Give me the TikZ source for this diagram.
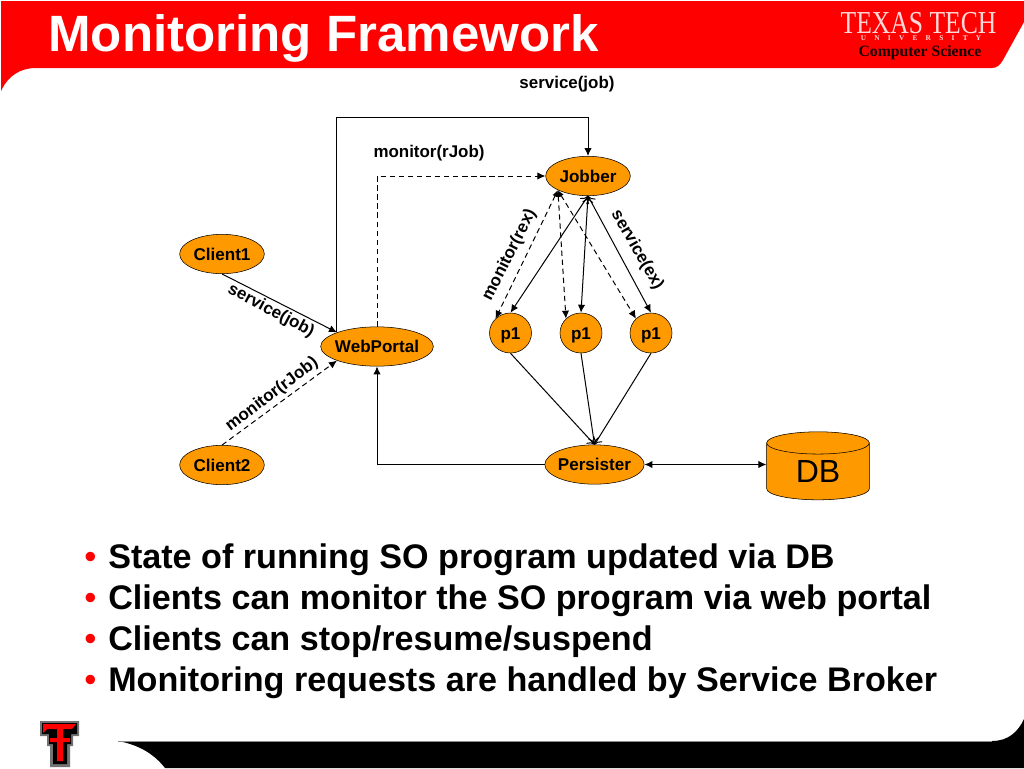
\documentclass[tikz,border=0pt]{standalone}
\usepackage{fontspec}
\setmainfont{Liberation Sans}
\newfontfamily\logofont{Liberation Serif}
\usetikzlibrary{arrows.meta, shapes.geometric}
\definecolor{ttred}{RGB}{255,0,0}
\definecolor{boxorange}{RGB}{255,153,0}
\tikzset{
    blob/.style={ellipse, draw=black, fill=boxorange, inner ysep=0pt, inner xsep=-8pt, text height=9.3pt, text depth=0pt, font=\fontsize{12.8pt}{15pt}\selectfont\bfseries},
    portnode/.style={blob, minimum width=63.5pt, minimum height=29.5pt},
    wideport/.style={blob, minimum width=84.5pt, minimum height=29.5pt},
    worker/.style={blob, minimum width=31.5pt, minimum height=30pt},
    callname/.style={inner sep=0pt, font=\fontsize{12.7pt}{15pt}\selectfont\bfseries},
    bullettext/.style={inner sep=0pt, anchor=base west, font=\fontsize{25.6pt}{30pt}\selectfont\bfseries},
    bulletdot/.style={inner sep=0pt, anchor=base west, text=ttred, font=\fontsize{26pt}{30pt}\selectfont},
    link/.style={-{Latex[length=6pt,width=5.5pt]}, line width=0.75pt},
    watch/.style={link, dash pattern=on 4pt off 2.8pt}
}
\begin{document}
\begin{tikzpicture}[x=0.75pt, y=-0.75pt]
    \useasboundingbox (0,0) rectangle (1024,768);
    % --- Bandeau du haut ---
    \fill[white] (0,0) rectangle (1024,768);
    \fill[ttred] (1,1) -- (1024,1) -- (1024,22) -- (1003,60)
        .. controls (1000,65) and (997,68) .. (992,68) -- (36,68)
        .. controls (20,68) and (8,76) .. (1,91) -- cycle;
    \node[inner sep=0pt, anchor=base west, text=white, font=\fontsize{38.3pt}{44pt}\selectfont\bfseries]
        (title) at (48,51) {Monitoring Framework};

    % --- Logo ---
    \node[inner sep=0pt, anchor=base, xscale=0.8, text=white!85!red, font=\logofont\fontsize{24pt}{26pt}\selectfont] (texas) at (918.5,33) {TEXAS TECH};
    \node[inner sep=0pt, anchor=base, text=white!85!red, font=\logofont\bfseries\fontsize{5.5pt}{6pt}\selectfont] (univ) at (921,40) {U\hspace{6.2pt}N\hspace{6.2pt}I\hspace{6.2pt}V\hspace{6.2pt}E\hspace{6.2pt}R\hspace{6.2pt}S\hspace{6.2pt}I\hspace{6.2pt}T\hspace{6.2pt}Y};
    \node[inner sep=0pt, text=black!90!red, font=\logofont\bfseries\fontsize{11.8pt}{13pt}\selectfont] (dept) at (920,52.5) {Computer Science};

    % --- Bandeau du bas ---
    \fill[black] (118,741) .. controls (140,745) and (155,755) .. (165,768) -- (1024,768) -- (1024,719)
        .. controls (1018,732) and (1008,741) .. (992,741) -- cycle;
    \draw[black!45] (118,741) -- (992,741);

    % --- Double T ---
    \fill[black!55] (40,721) -- (79,721) -- (79,736) -- (73,736) -- (73,746) -- (70,746) -- (70,767)
        -- (50,767) -- (50,746) -- (47,746) -- (47,736) -- (40,736) -- cycle;
    \fill[black] (42,723) -- (77,723) -- (77,734) -- (71,734) -- (71,744) -- (67,744) -- (67,764)
        -- (53,764) -- (53,744) -- (49,744) -- (49,734) -- (42,734) -- cycle;
    \fill[ttred] (43,724) -- (76,724) -- (72,729) -- (63,729) -- (63,738) -- (70,738) -- (70,742)
        -- (63,742) -- (63,761) -- (57,761) -- (57,742) -- (50,742) -- (50,738) -- (57,738) -- (57,729)
        -- (47,729) -- (43,733) -- cycle;

    % --- Noeuds ---
    \node[portnode] (Client1) at (222,254) {Client1};
    \node[portnode] (Client2) at (222,465) {Client2};
    \node[wideport] (WebPortal) at (377,346.5) {WebPortal};
    \node[portnode] (Jobber) at (588,176) {Jobber};
    \node[worker] (p1a) at (510.5,333) {p1};
    \node[worker] (p1b) at (581,333) {p1};
    \node[worker] (p1c) at (651,333) {p1};
    \node[blob, minimum width=74.5pt, minimum height=29.5pt] (Persister) at (594.5,464.5) {Persister};
    \node[cylinder, shape border rotate=90, aspect=0.5, draw=black, fill=boxorange, cylinder uses custom fill,
        cylinder body fill=boxorange, cylinder end fill=boxorange, inner sep=0pt,
        minimum width=77pt, minimum height=51pt, font=\fontsize{24pt}{28pt}\selectfont] (DB) at (818,471.5) {DB};

    \coordinate (webTop) at (WebPortal.north west |- 0,117);
    \coordinate (dbPort) at (DB.west |- Persister.east);

    % --- Connecteurs ---
    \draw[link] (WebPortal.north west) -- (webTop) -| (Jobber.north);
    \draw[watch] (WebPortal.north) |- (Jobber.west);
    \draw[link] (Client1.south) -- (WebPortal.north west);
    \draw[watch] (Client2.north) -- (WebPortal.south west);
    \draw[link] (Persister.west) -| (WebPortal.south);
    \draw[link, {Latex[length=6pt,width=5.5pt]}-{Latex[length=6pt,width=5.5pt]}] (Persister.east) -- (dbPort);

    % Jobber et les p1
    \foreach \p in {p1a, p1b, p1c} {
        \draw[link, {To[length=5pt,width=8pt]}-{Latex[length=6pt,width=5.5pt]}] (Jobber.south) -- (\p.north);
        \draw[watch, {Latex[length=5pt,width=4pt]}-{Latex[length=6pt,width=5.5pt]}] (Jobber.south west) -- (\p.north west);
        \draw[line width=0.75pt, -{To[length=5pt,width=8pt]}] (\p.south) -- (Persister.north);
    }

    % --- Etiquettes ---
    \node[callname] (lblTop) at (567,84) {service(job)};
    \node[callname] (lblWeb) at (429,153) {monitor(rJob)};
    \node[callname, rotate=63] (lblRex) at (509.5,255) {monitor(rex)};
    \node[callname, rotate=-60] (lblEx) at (637,250) {service(ex)};
    \node[callname, rotate=-28] (lblJob) at (271,311) {service(job)};
    \node[callname, rotate=37] (lblRJob) at (272,394.5) {monitor(rJob)};

    % --- Liste ---
    \foreach \y/\txt [count=\i] in {
        568/{State of running SO program updated via DB},
        609/{Clients can monitor the SO program via web portal},
        650/{Clients can stop/resume/suspend},
        691/{Monitoring requests are handled by Service Broker}} {
        \node[bulletdot] (dot\i) at (84,\y) {•};
        \node[bullettext] (item\i) at (108,\y) {\txt};
    }
\end{tikzpicture}
\end{document}
